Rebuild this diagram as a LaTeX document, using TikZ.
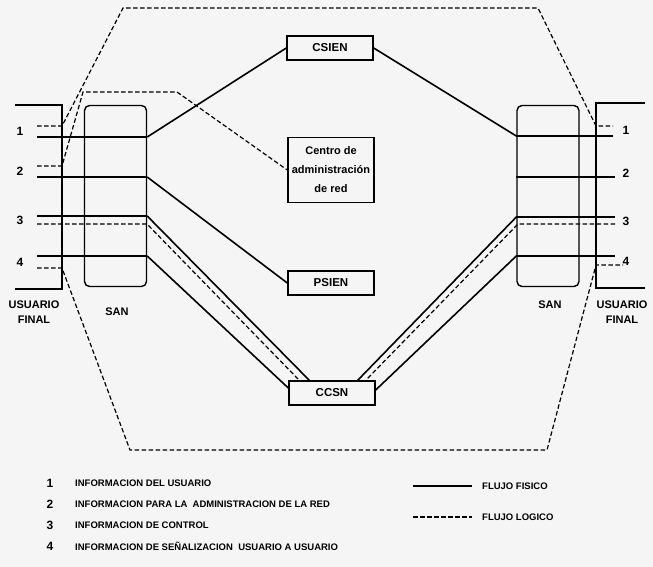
\documentclass[tikz,border=0pt]{standalone}
\usepackage{fontspec}
\setmainfont{Liberation Sans}
\usetikzlibrary{positioning}

\begin{document}
\begin{tikzpicture}[
    x=1pt, y=-1pt,
    box/.style={rectangle, draw, line width=1.4pt, minimum width=86pt, minimum height=24pt, inner sep=1pt, font=\bfseries\fontsize{11.5}{13}\selectfont},
    san/.style={rectangle, draw, rounded corners=5pt, line width=1.4pt, minimum width=62pt, minimum height=181pt},
    fisico/.style={line width=1.6pt},
    logico/.style={line width=1.2pt, dash pattern=on 4.5pt off 2.5pt},
    num/.style={inner sep=0pt, font=\bfseries\fontsize{12}{13}\selectfont},
    etiqueta/.style={inner sep=0pt, align=center, font=\bfseries\fontsize{11}{15}\selectfont},
    leyenda/.style={inner sep=0pt, font=\bfseries\fontsize{9.5}{11}\selectfont},
    node distance=20pt
]
    \fill[black!4] (0,0) rectangle (653,567);
    \useasboundingbox (0,0) rectangle (653,567);

    % centrales
    \node[box] (csien) at (330,48) {CSIEN};
    \node[box, minimum height=65pt, align=center, font=\bfseries\fontsize{11}{19}\selectfont] (centro) at (331,170) {Centro de\\administración\\de red};
    \node[box] (psien) at (331,283) {PSIEN};
    \node[box] (ccsn) at (332,393) {CCSN};

    \node[san] (sanL) at (115.5,196) {};
    \node[san] (sanR) at (548,196) {};

    % usuarios finales
    \draw[fisico] (15,105) -- (62,105) -- (62,289) -- (15,289);
    \draw[fisico] (645,103) -- (596,103) -- (596,288) -- (645,288);

    \foreach \n/\y in {1/137, 2/177, 3/216, 4/256} {
        \coordinate (iL\n) at (37,\y);
        \coordinate (sL\n) at (sanL.east |- 0,\y);
    }
    \foreach \n/\y/\e in {1/136/613, 2/177/615, 3/217/615, 4/256/615} {
        \coordinate (iR\n) at (\e,\y);
        \coordinate (sR\n) at (sanR.west |- 0,\y);
    }
    \foreach \n in {1,...,4}
        \draw[fisico] (iL\n) -- (sL\n);
    \foreach \n in {1,...,4}
        \draw[fisico] (sR\n) -- (iR\n);

    \coordinate (dL1) at (37,126);  \coordinate (bL1) at (62,126);
    \coordinate (dL2) at (37,166);  \coordinate (bL2) at (62,166);
    \coordinate (dL3) at (37,224);  \coordinate (eL3) at (147,224);
    \coordinate (dL4) at (37,268);  \coordinate (bL4) at (62,268);
    \coordinate (bR1) at (596,126); \coordinate (dR1) at (613,126);
    \coordinate (eR3) at (518,224); \coordinate (dR3) at (615,224);
    \coordinate (bR4) at (596,265); \coordinate (dR4) at (623,265);
    \coordinate (tl) at (123,8);    \coordinate (tr) at (538,8);
    \coordinate (bl) at (130,450);  \coordinate (br) at (547,450);
    \coordinate (ad1) at (83,92);   \coordinate (ad2) at (177,92);

    % flujo fisico
    \draw[fisico] (sL1) -- (csien.west);
    \draw[fisico] (csien.east) -- (sR1);
    \draw[fisico] (sL2) -- (psien.west);
    \draw[fisico] (sL3) -- ([xshift=21pt]ccsn.north west);
    \draw[fisico] (sL4) -- ([yshift=5pt]ccsn.west);
    \draw[fisico] ([xshift=-18pt]ccsn.north east) -- (sR3);
    \draw[fisico] ([yshift=3pt]ccsn.east) -- (sR4);

    % flujo logico
    \draw[logico] (dL1) -- (bL1) -- (tl) -- (tr) -- (bR1) -- (dR1);
    \draw[logico] (dL4) -- (bL4) -- (bl) -- (br) -- (bR4) -- (dR4);
    \draw[logico] (dL2) -- (bL2) -- (ad1) -- (ad2) -- (centro.west);
    \draw[logico] (dL3) -- (eL3) -- ([xshift=11pt]ccsn.north west);
    \draw[logico] ([xshift=-8pt,yshift=2pt]ccsn.north east) -- (eR3) -- (dR3);

    % etiquetas
    \foreach \n/\y in {1/131, 2/171, 3/220, 4/262}
        \node[num] (nL\n) at (20,\y) {\n};
    \foreach \n/\y in {1/130, 2/173, 3/221, 4/261}
        \node[num] (nR\n) at (626,\y) {\n};
    \node[etiqueta] (usL) at (34,312) {USUARIO\\FINAL};
    \node[etiqueta] (usR) at (622,312) {USUARIO\\FINAL};
    \node[etiqueta] (tsanL) at (117,312) {SAN};
    \node[etiqueta] (tsanR) at (550,305) {SAN};

    % leyenda
    \foreach \n/\y/\txt in {1/483/INFORMACION DEL USUARIO, 2/504/INFORMACION PARA LA\ \ ADMINISTRACION DE LA RED, 3/525/INFORMACION DE CONTROL, 4/546/INFORMACION DE SEÑALIZACION\ \ USUARIO A USUARIO} {
        \node[num] (ley\n) at (50,\y) {\n};
        \node[leyenda, anchor=west] (txt\n) at (75,\y) {\txt};
    }
    \node[leyenda, anchor=west] (ffis) at (482,486) {FLUJO FISICO};
    \node[leyenda, anchor=west] (flog) at (482,517) {FLUJO LOGICO};
    \coordinate (lf) at (413,486);
    \coordinate (ll) at (413,517);
    \draw[fisico] (lf) -- ([xshift=-10pt]ffis.west);
    \draw[logico] (ll) -- ([xshift=-10pt]flog.west);
\end{tikzpicture}
\end{document}
